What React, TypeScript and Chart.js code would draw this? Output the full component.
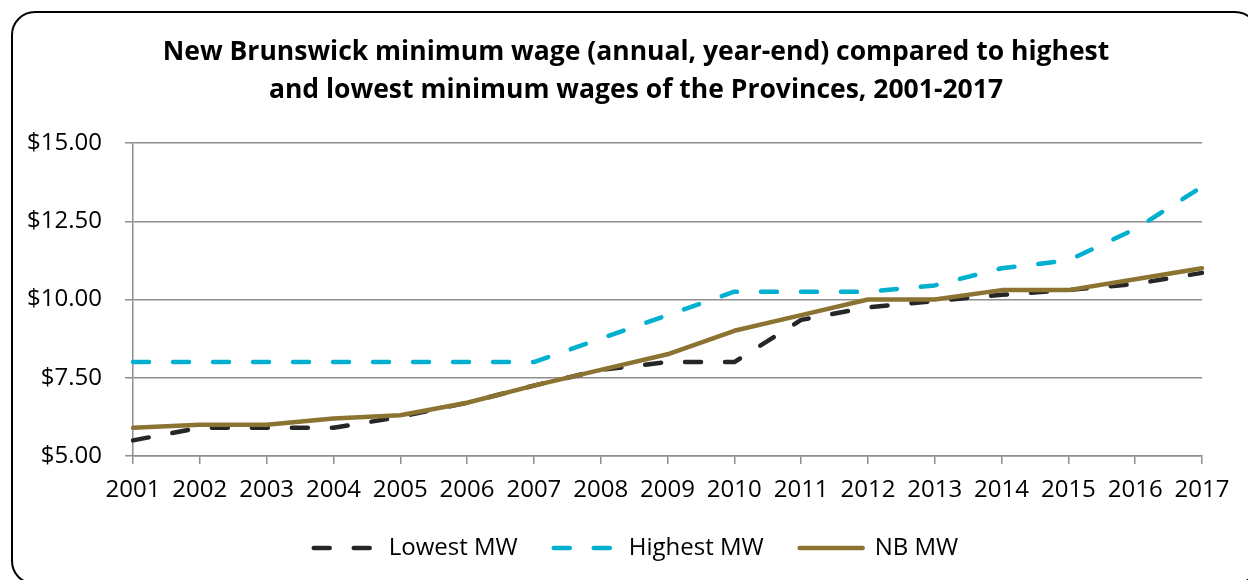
import React, { useEffect, useRef } from "react";
import { Chart, registerables } from "chart.js";

Chart.register(...registerables);

const years = ["2001","2002","2003","2004","2005","2006","2007","2008","2009","2010","2011","2012","2013","2014","2015","2016","2017"];
const lowestMW = [5.50,5.90,5.90,5.90,6.25,6.70,7.25,7.75,8.00,8.00,9.35,9.75,9.95,10.15,10.30,10.50,10.85];
const highestMW = [8.00,8.00,8.00,8.00,8.00,8.00,8.00,8.75,9.50,10.25,10.25,10.25,10.45,11.00,11.25,12.25,13.60];
const nbMW = [5.90,6.00,6.00,6.20,6.30,6.70,7.25,7.75,8.25,9.00,9.50,10.00,10.00,10.30,10.30,10.65,11.00];
const titleLines = [
  "New Brunswick minimum wage (annual, year-end) compared to highest",
  "and lowest minimum wages of the Provinces, 2001-2017",
];
const seriesNames = ["Lowest MW", "Highest MW", "NB MW"];

const GRID = "#8e8e8e";
const FONT = "'Open Sans', sans-serif";

// shift title and legend so that they are centred like in the reference
const recenter = {
  id: "recenter",
  afterLayout(chart: any) {
    const left = 70;
    const right = chart.chartArea.right;
    for (const b of [chart.titleBlock, chart.legend]) {
      if (!b) continue;
      b.left = left;
      b.right = right;
      b.width = right - left;
    }
  },
};

export default function App() {
  const ref = useRef<HTMLCanvasElement | null>(null);
  useEffect(() => {
    if (!ref.current) return;
    const dash = [16, 24];
    const chart = new Chart(ref.current, {
      type: "line",
      data: {
        labels: years,
        datasets: [
          {
            label: seriesNames[0],
            data: lowestMW,
            borderColor: "#262626",
            backgroundColor: "#262626",
            borderWidth: 4.5,
            borderDash: dash,
            borderCapStyle: "round",
            borderJoinStyle: "round",
            pointRadius: 0,
            order: 3,
          },
          {
            label: seriesNames[1],
            data: highestMW,
            borderColor: "#00b0cf",
            backgroundColor: "#00b0cf",
            borderWidth: 4.5,
            borderDash: dash,
            borderCapStyle: "round",
            borderJoinStyle: "round",
            pointRadius: 0,
            order: 2,
          },
          {
            label: seriesNames[2],
            data: nbMW,
            borderColor: "#8b7332",
            backgroundColor: "#8b7332",
            borderWidth: 4.5,
            borderCapStyle: "round",
            borderJoinStyle: "round",
            pointRadius: 0,
            order: 1,
          },
        ],
      },
      options: {
        responsive: false,
        animation: false,
        layout: { padding: { left: 20, right: 46, top: 0, bottom: 10 } },
        plugins: {
          title: {
            display: true,
            text: titleLines,
            color: "#000",
            font: { family: FONT, size: 26.5, weight: "bold", lineHeight: 38 / 26.5 },
            padding: { top: 33.5, bottom: 33.5 },
          },
          legend: {
            position: "bottom",
            labels: {
              usePointStyle: true,
              pointStyle: "line",
              pointStyleWidth: 63,
              color: "#000",
              font: { family: FONT, size: 24 },
              padding: 36,
              sort: (a: any, b: any) => a.datasetIndex - b.datasetIndex,
              generateLabels: (c: any) => {
                const items = Chart.defaults.plugins.legend.labels.generateLabels(c);
                return items.map((it: any) => {
                  const ds = c.data.datasets[it.datasetIndex];
                  return {
                    ...it,
                    lineDash: ds.borderDash || [],
                    lineCap: "round",
                    lineWidth: 4.5,
                    strokeStyle: ds.borderColor,
                    fillStyle: ds.borderColor,
                    pointStyle: "line",
                  };
                });
              },
            },
          },
          tooltip: { enabled: false },
        },
        scales: {
          x: {
            offset: false,
            grid: {
              drawOnChartArea: false,
              drawTicks: true,
              tickLength: 8,
              color: GRID,
              lineWidth: 1.5,
            },
            border: { display: true, color: GRID, width: 1.5 },
            ticks: {
              color: "#000",
              font: { family: FONT, size: 24 },
              padding: 12,
              maxRotation: 0,
              autoSkip: false,
            },
            afterFit: (s: any) => {
              s.height = 44;
            },
          },
          y: {
            min: 5,
            max: 15,
            grid: {
              color: GRID,
              lineWidth: 1.5,
              drawTicks: true,
              tickLength: 8,
            },
            border: { display: true, color: GRID, width: 1.5 },
            ticks: {
              stepSize: 2.5,
              color: "#000",
              font: { family: FONT, size: 24 },
              padding: 23,
              callback: (v: any) => "$" + Number(v).toFixed(2),
            },
            afterFit: (s: any) => {
              s.width = 113;
            },
          },
        },
      },
      plugins: [recenter],
    });
    return () => chart.destroy();
  }, []);

  return (
    <div>
      <canvas
        ref={ref}
        width={1248}
        height={580}
        style={{ position: "fixed", left: 0, top: 0, width: 1248, height: 580, background: "#fff" }}
      />
      <div
        style={{
          position: "fixed",
          left: 11,
          top: 11,
          width: 1244,
          height: 570,
          border: "2px solid #000",
          borderRadius: 24,
          pointerEvents: "none",
        }}
      />
    </div>
  );
}
